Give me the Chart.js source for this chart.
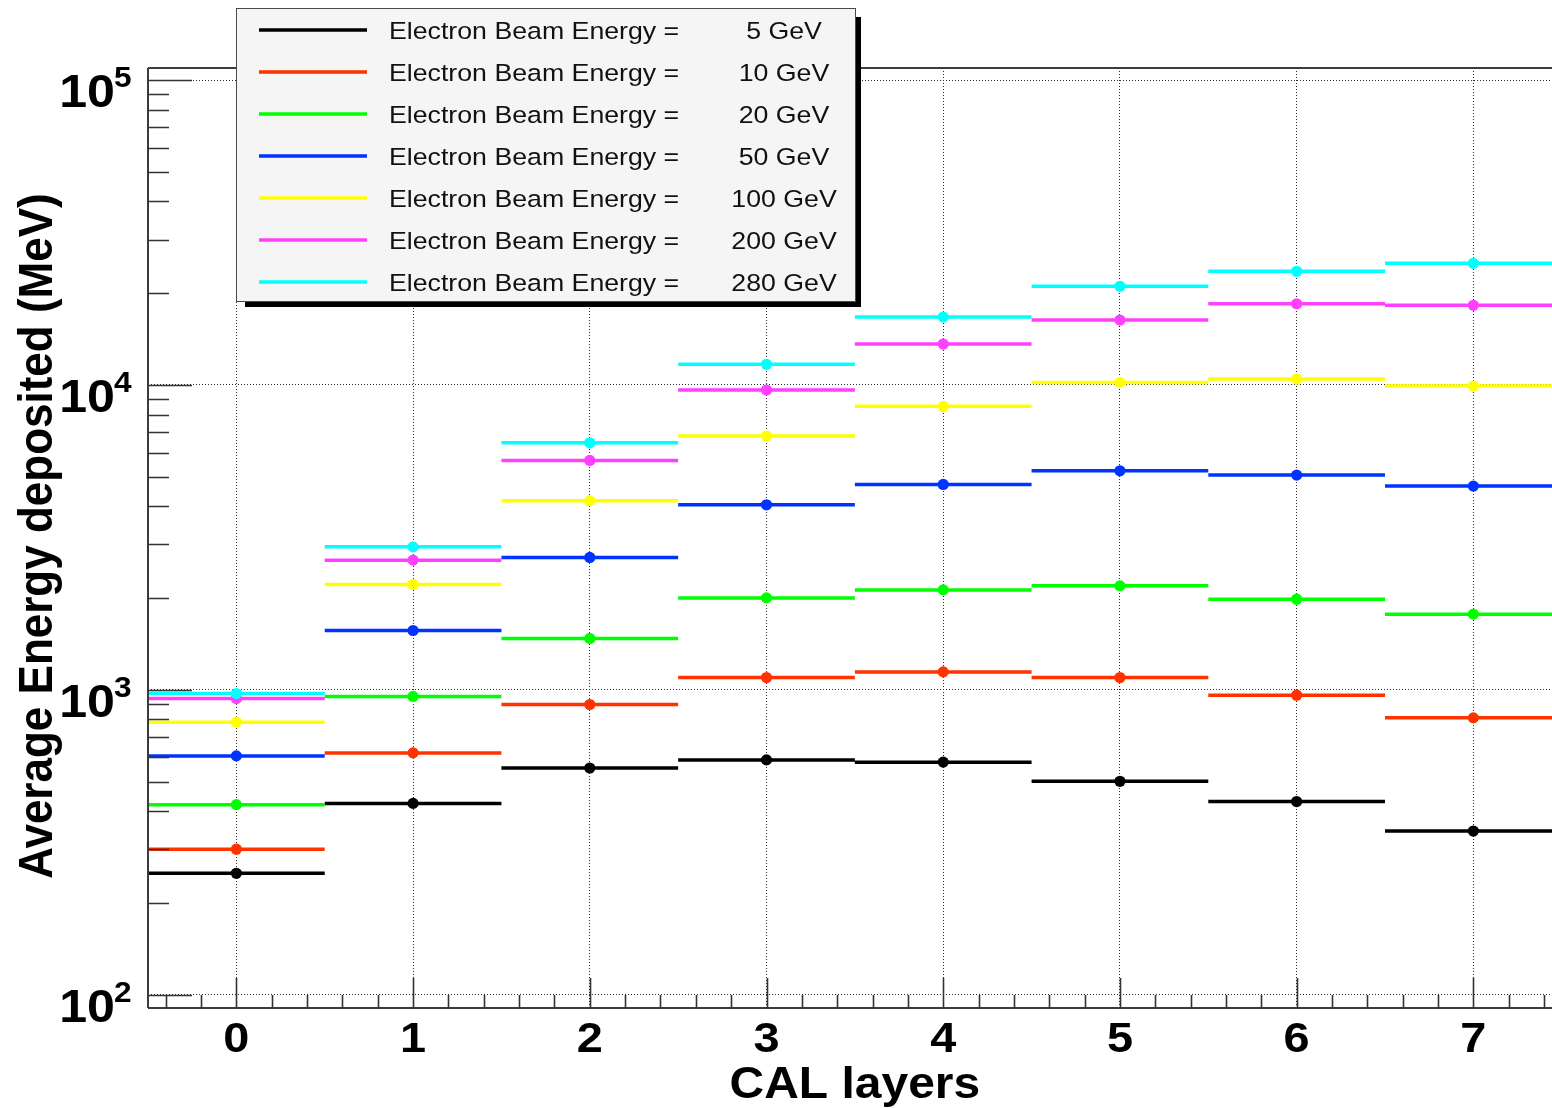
<!DOCTYPE html>
<html>
<head>
<meta charset="utf-8">
<script src="https://cdn.jsdelivr.net/npm/chart.js@4.4.1/dist/chart.umd.min.js"></script>
<style>
html,body{margin:0;padding:0;background:#ffffff;overflow:hidden;}
canvas{display:block;}
</style>
</head>
<body>
<canvas id="c" width="1552" height="1108"></canvas>
<script>
// ---------------- data ----------------
const layers = [0, 1, 2, 3, 4, 5, 6, 7];
const beamEnergies = [5, 10, 20, 50, 100, 200, 280];
const e5   = [250, 424, 554, 589, 579, 501, 430, 344];
const e10  = [300, 621, 895, 1097, 1145, 1097, 960, 809];
const e20  = [420, 951, 1474, 2002, 2127, 2193, 1983, 1771];
const e50  = [607, 1565, 2718, 4045, 4718, 5230, 5062, 4658];
const e100 = [783, 2216, 4169, 6797, 8508, 10197, 10457, 9917];
const e200 = [936, 2663, 5655, 9623, 13621, 16331, 18469, 18250];
const e280 = [972, 2944, 6461, 11684, 16707, 21067, 23594, 25063];
const seriesValues = [e5, e10, e20, e50, e100, e200, e280];
const yTickValues = [100, 1000, 10000, 100000];
const yTickExponents = ['2', '3', '4', '5'];
const xTickLabels = ['0', '1', '2', '3', '4', '5', '6', '7'];
const xTitle = 'CAL layers';
const yTitle = 'Average Energy deposited (MeV)';
const legendPrefix = 'Electron Beam Energy =';
const legendUnit = 'GeV';

// ---------------- styles ----------------
const colors = ['#000000', '#ff3300', '#00ff00', '#0033ff', '#ffff00', '#ff40ff', '#00ffff'];
const FONT = '"Liberation Sans", Arial, Helvetica, sans-serif';
const SX = 1.09; // horizontal stretch of the reference's text

function buildSteps(values) {
  const pts = [];
  values.forEach((v, i) => {
    const x = layers[i];
    pts.push({x: x - 0.5, y: v});
    pts.push({x: x, y: v});
    pts.push({x: x + 0.5, y: v});
    pts.push({x: x + 0.5, y: null});
  });
  return pts;
}

const datasets = seriesValues.map((vals, i) => ({
  label: legendPrefix + ' ' + beamEnergies[i] + ' ' + legendUnit,
  data: buildSteps(vals),
  borderColor: colors[i],
  backgroundColor: colors[i],
  pointBackgroundColor: colors[i],
  pointBorderWidth: 0,
  borderWidth: 3.5,
  tension: 0,
  spanGaps: false,
  order: seriesValues.length - 1 - i,
  pointRadius: (ctx) => (ctx.dataIndex % 4 === 1 ? 5.6 : 0),
  pointHoverRadius: 0
}));

function sText(ctx, text, x, y, align, font, color) {
  ctx.save();
  ctx.font = font;
  ctx.fillStyle = color;
  ctx.textBaseline = 'alphabetic';
  ctx.textAlign = align;
  ctx.translate(x, y);
  ctx.scale(SX, 1);
  ctx.fillText(text, 0, 0);
  ctx.restore();
}

const rootStyle = {
  id: 'rootStyle',
  afterDatasetsDraw(chart) {
    const {ctx, chartArea: ca, scales: {x, y}} = chart;
    ctx.save();
    // frame
    ctx.strokeStyle = '#3c3c3c';
    ctx.lineWidth = 2;
    ctx.beginPath();
    ctx.moveTo(ca.left, ca.top); ctx.lineTo(ca.right, ca.top);
    ctx.moveTo(ca.left, ca.top); ctx.lineTo(ca.left, ca.bottom);
    ctx.moveTo(ca.left, ca.bottom); ctx.lineTo(ca.right, ca.bottom);
    ctx.stroke();
    // y ticks
    ctx.lineWidth = 1.6;
    ctx.strokeStyle = '#333333';
    ctx.beginPath();
    for (let e = 1; e <= 5; e++) {
      const d = Math.pow(10, e);
      for (let m = 1; m <= 9; m++) {
        const v = m * d;
        if (v < y.min || v > y.max) continue;
        const py = Math.round(y.getPixelForValue(v)) + 0.5;
        const len = m === 1 ? 44 : 21;
        ctx.moveTo(ca.left, py); ctx.lineTo(ca.left + len, py);
      }
    }
    // x ticks
    for (let k = -2; k <= 40; k++) {
      const v = k * 0.2;
      if (v < x.min || v > x.max) continue;
      const px = Math.round(x.getPixelForValue(v)) + 0.5;
      const len = k % 5 === 0 ? 30 : 13;
      ctx.moveTo(px, ca.bottom); ctx.lineTo(px, ca.bottom - len);
    }
    ctx.stroke();
    ctx.restore();

    // y tick labels
    yTickValues.forEach((v, i) => {
      const py = y.getPixelForValue(v);
      sText(ctx, '10', 115, py + 27, 'right', 'bold 46px ' + FONT, '#000');
      sText(ctx, yTickExponents[i], 114, py + 7, 'left', 'bold 29px ' + FONT, '#000');
    });
    // x tick labels
    layers.forEach((l, i) => {
      sText(ctx, xTickLabels[i], x.getPixelForValue(l), 1052, 'center', 'bold 43px ' + FONT, '#000');
    });
    // x title
    sText(ctx, xTitle, x.getPixelForValue(3.5), 1098, 'center', 'bold 44px ' + FONT, '#000');
    // y title
    ctx.save();
    ctx.font = 'bold 44px ' + FONT;
    ctx.fillStyle = '#000';
    ctx.textAlign = 'center';
    ctx.textBaseline = 'alphabetic';
    ctx.translate(52, (ca.top + ca.bottom) / 2 - 2);
    ctx.scale(SX, 1);
    ctx.rotate(-Math.PI / 2);
    ctx.fillText(yTitle, 0, 0);
    ctx.restore();
  },
  afterDraw(chart) {
    const {ctx} = chart;
    ctx.save();
    // shadow
    ctx.fillStyle = '#000';
    ctx.fillRect(245, 302, 616, 5);
    ctx.fillRect(856, 17, 5, 290);
    // box
    ctx.fillStyle = '#f5f5f5';
    ctx.fillRect(236, 8, 620, 294);
    ctx.strokeStyle = '#4a4a4a';
    ctx.lineWidth = 1;
    ctx.strokeRect(236.5, 8.5, 619, 293);
    chart.data.datasets.forEach((ds, i) => {
      const ly = 30 + i * 42;
      ctx.strokeStyle = ds.borderColor;
      ctx.lineWidth = 3.5;
      ctx.beginPath();
      ctx.moveTo(259, ly); ctx.lineTo(367, ly);
      ctx.stroke();
      sText(ctx, legendPrefix, 389, ly + 9, 'left', '24.5px ' + FONT, '#111');
      sText(ctx, beamEnergies[i] + ' ' + legendUnit, 784, ly + 9, 'center', '24.5px ' + FONT, '#111');
    });
    ctx.restore();
  }
};

new Chart(document.getElementById('c'), {
  type: 'line',
  data: {datasets},
  options: {
    responsive: false,
    animation: false,
    devicePixelRatio: 1,
    layout: {padding: {left: 148, top: 68, right: 0, bottom: 100}},
    plugins: {legend: {display: false}, tooltip: {enabled: false}, title: {display: false}},
    events: [],
    scales: {
      x: {
        type: 'linear',
        min: -0.5,
        max: 7.445,
        afterBuildTicks: (axis) => { axis.ticks = layers.map(v => ({value: v})); },
        ticks: {display: false},
        grid: {display: true, drawTicks: false, color: '#2a2a2a', lineWidth: 1},
        border: {display: false, dash: [1, 2]}
      },
      y: {
        type: 'logarithmic',
        min: 90.4,
        max: 109600,
        afterBuildTicks: (axis) => { axis.ticks = yTickValues.map(v => ({value: v})); },
        ticks: {display: false},
        grid: {display: true, drawTicks: false, color: '#2a2a2a', lineWidth: 1},
        border: {display: false, dash: [1, 2]}
      }
    }
  },
  plugins: [rootStyle]
});
</script>
</body>
</html>
